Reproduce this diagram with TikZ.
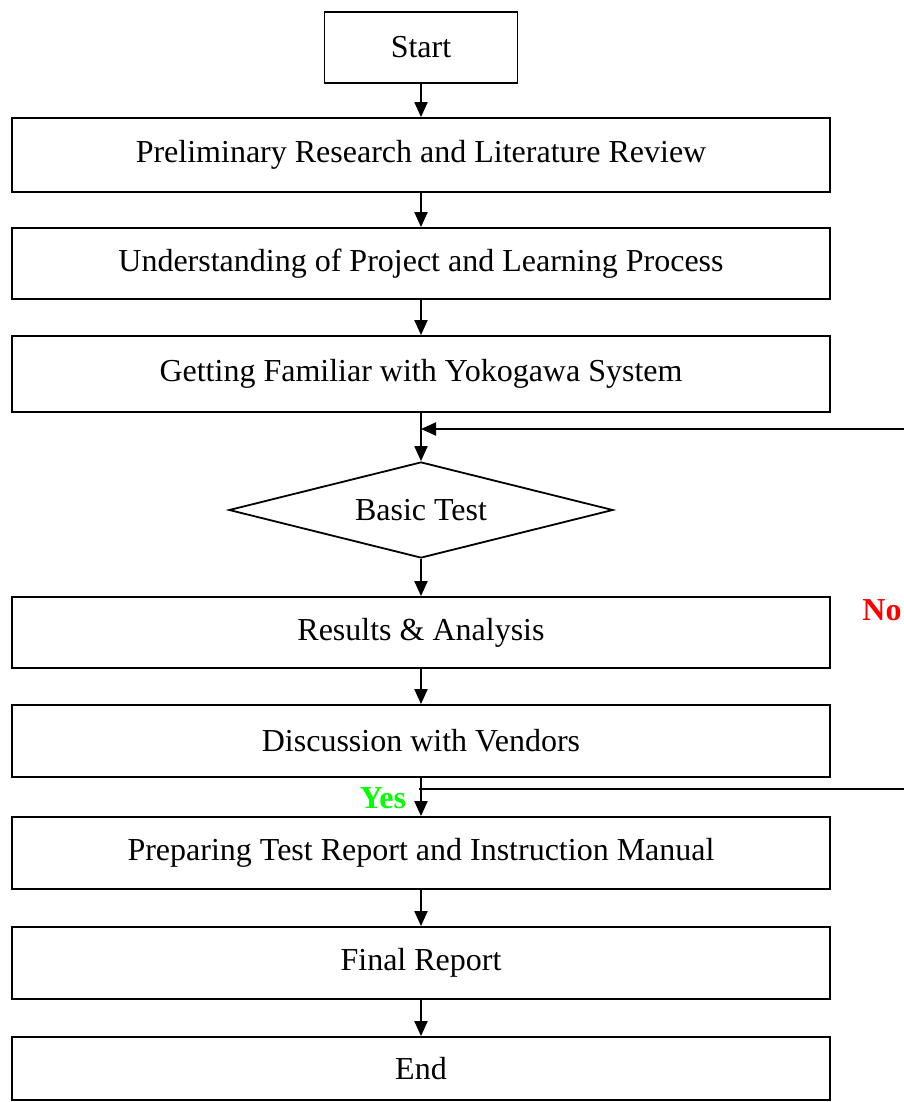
\documentclass[tikz,border=0pt]{standalone}
\usepackage{fontspec}
\setmainfont{Liberation Serif}
\usetikzlibrary{arrows.meta,shapes.geometric}
\begin{document}
\begin{tikzpicture}[x=1pt,y=-1pt,
  every node/.style={font=\fontsize{32}{38}\selectfont},
  stepbox/.style={draw,line width=1.8pt,rectangle,minimum width=818pt,inner sep=0pt},
  decide/.style={draw,line width=1.8pt,diamond,aspect=4,minimum width=384pt,minimum height=96pt,inner sep=0pt},
  flow/.style={line width=2pt,-{Triangle[length=15pt,width=13pt]}},
  plain/.style={line width=2pt},
  lbl/.style={font=\fontsize{32}{38}\selectfont\bfseries,anchor=base}]
\useasboundingbox (0,0) rectangle (904,1102);
\node[stepbox,minimum width=193pt,minimum height=71pt] (start) at (421,47.5) {Start};
\node[stepbox,minimum height=74pt] (lit) at (421,155) {Preliminary Research and Literature Review};
\node[stepbox,minimum height=71pt] (und) at (421,263.5) {Understanding of Project and Learning Process};
\node[stepbox,minimum height=76pt] (fam) at (421,374) {Getting Familiar with Yokogawa System};
\node[decide] (test) at (421,510) {Basic Test};
\node[stepbox,minimum height=71pt] (res) at (421,632.5) {Results \& Analysis};
\node[stepbox,minimum height=72pt] (disc) at (421,741) {Discussion with Vendors};
\node[stepbox,minimum height=72pt] (prep) at (421,853) {Preparing Test Report and Instruction Manual};
\node[stepbox,minimum height=72pt] (fin) at (421,963) {Final Report};
\node[stepbox,minimum height=63pt] (end) at (421,1068.5) {End};

% main sequence
\draw[flow] (start) -- (lit);
\draw[flow] (lit) -- (und);
\draw[flow] (und) -- (fam);
\draw[flow] (fam) -- (test);
\draw[flow] (test) -- (res);
\draw[flow] (res) -- (disc);
\draw[flow] (disc) -- (prep);
\draw[flow] (prep) -- (fin);
\draw[flow] (fin) -- (end);

% loop back from the vendor discussion to the basic test
\coordinate (back) at (904,429);
\coordinate (out) at (904,789);
\draw[flow] (back) -- (fam.south |- back);
\draw[plain] (disc.south |- out) ++(-2,0) -- (out);

\node[lbl,text={rgb,255:red,0;green,255;blue,0}] (yes) at (383,808) {Yes};
\node[lbl,text=red] (no) at (882,620) {No};
\end{tikzpicture}
\end{document}
